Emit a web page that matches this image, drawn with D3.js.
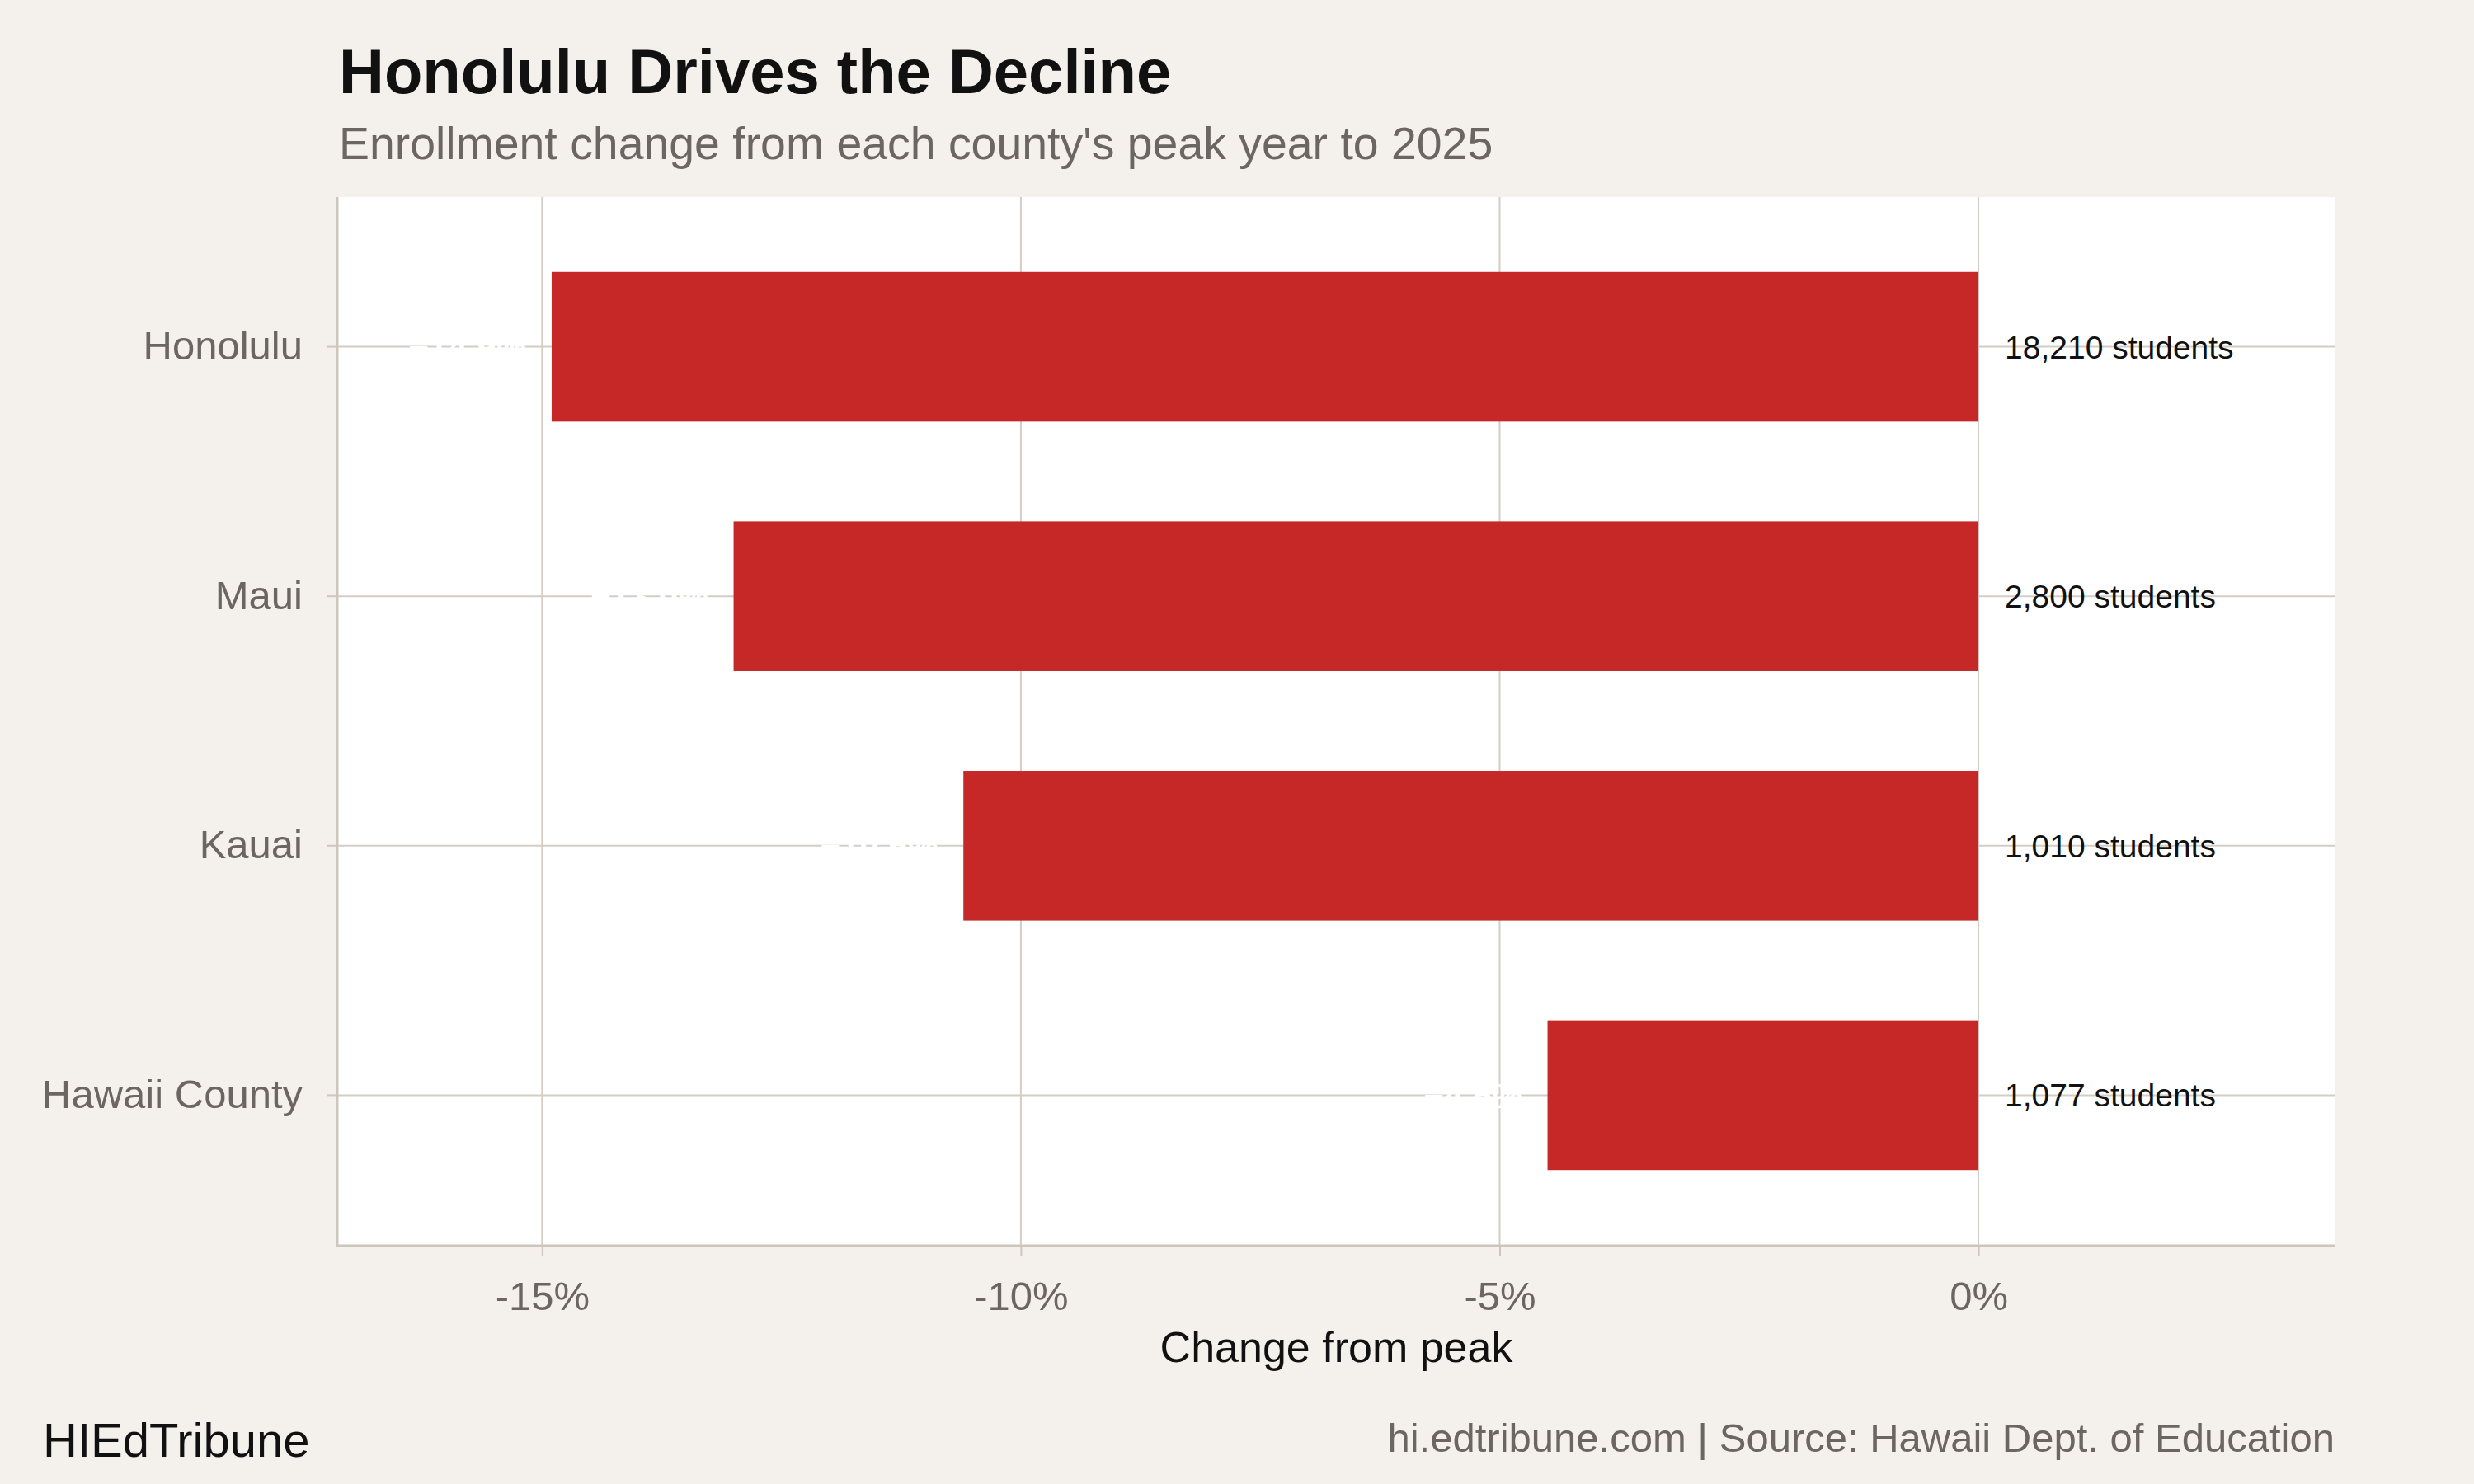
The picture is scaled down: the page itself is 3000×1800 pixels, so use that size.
<!DOCTYPE html>
<html>
<head>
<meta charset="utf-8">
<script src="https://cdn.jsdelivr.net/npm/d3@7"></script>
<style>
  html, body { margin: 0; padding: 0; background: #f4f1ec; }
  svg { display: block; }
  text { font-family: "Liberation Sans", Arial, Helvetica, sans-serif; }
</style>
</head>
<body>
<script>
// ---- data ----
const counties = ["Honolulu", "Maui", "Kauai", "Hawaii County"];
const pctChange = [-14.9, -13.0, -10.6, -4.5];
const studentsLost = [18210, 2800, 1010, 1077];
const xTicks = [-15, -10, -5, 0];
const xTickLabels = ["-15%", "-10%", "-5%", "0%"];

const titleText = "Honolulu Drives the Decline";
const subtitleText = "Enrollment change from each county's peak year to 2025";
const xAxisTitle = "Change from peak";
const brandText = "HIEdTribune";
const sourceText = "hi.edtribune.com | Source: Hawaii Dept. of Education";

// ---- layout ----
const W = 3000, H = 1800;
const panel = { left: 410, right: 2831, top: 239, bottom: 1510 };
const colors = {
  bg: "#f4f1ec", panel: "#ffffff", grid: "#d3cdc5", axis: "#cdc6bc",
  bar: "#c62828", grey: "#6b6661", dark: "#111111"
};

const rows = counties.map((c, i) => ({ county: c, pct: pctChange[i], students: studentsLost[i] }));

const svg = d3.select("body").append("svg").attr("width", W).attr("height", H);
svg.append("rect").attr("width", W).attr("height", H).attr("fill", colors.bg);

const x = d3.scaleLinear().domain([-17.13, 3.72]).range([panel.left, panel.right]);
const y = d3.scaleBand().domain(counties).range([panel.top, panel.bottom])
  .paddingInner(0.4).paddingOuter(0.3);

// panel background
svg.append("rect")
  .attr("x", panel.left).attr("y", panel.top)
  .attr("width", panel.right - panel.left).attr("height", panel.bottom - panel.top)
  .attr("fill", colors.panel);

// grid lines
svg.append("g").selectAll("line").data(xTicks).join("line")
  .attr("x1", d => x(d)).attr("x2", d => x(d))
  .attr("y1", panel.top).attr("y2", panel.bottom)
  .attr("stroke", colors.grid).attr("stroke-width", 2);
svg.append("g").selectAll("line").data(counties).join("line")
  .attr("x1", panel.left).attr("x2", panel.right)
  .attr("y1", d => y(d) + y.bandwidth() / 2).attr("y2", d => y(d) + y.bandwidth() / 2)
  .attr("stroke", colors.grid).attr("stroke-width", 2);

// bars
svg.append("g").selectAll("rect").data(rows).join("rect")
  .attr("x", d => x(Math.min(0, d.pct)))
  .attr("width", d => Math.abs(x(d.pct) - x(0)))
  .attr("y", d => y(d.county))
  .attr("height", y.bandwidth())
  .attr("fill", colors.bar);

// white percent labels (left of bars)
svg.append("g").selectAll("text").data(rows).join("text")
  .attr("x", d => x(d.pct) - 30)
  .attr("y", d => y(d.county) + y.bandwidth() / 2)
  .attr("dy", "0.36em")
  .attr("text-anchor", "end")
  .attr("font-size", 42).attr("font-weight", "bold")
  .attr("fill", "#ffffff")
  .text(d => d3.format(".1f")(d.pct) + "%");

// student labels
const fmt = d3.format(",");
svg.append("g").selectAll("text").data(rows).join("text")
  .attr("x", x(0) + 32)
  .attr("y", d => y(d.county) + y.bandwidth() / 2)
  .attr("dy", "0.36em")
  .attr("font-size", 39)
  .attr("fill", colors.dark)
  .text(d => fmt(d.students) + " students");

// x axis
const xAxis = d3.axisBottom(x).tickValues(xTicks)
  .tickFormat((d, i) => xTickLabels[i]).tickSize(14).tickPadding(30);
const gx = svg.append("g").attr("transform", `translate(0,${panel.bottom})`).call(xAxis);
gx.select(".domain").remove();
gx.selectAll(".tick line").attr("stroke", colors.axis).attr("stroke-width", 2);
gx.selectAll(".tick text").attr("font-size", 49).attr("fill", colors.grey)
  .attr("font-family", "Liberation Sans, Arial, sans-serif");

// y axis
const yAxis = d3.axisLeft(y).tickSize(14).tickPadding(29);
const gy = svg.append("g").attr("transform", `translate(${panel.left},0)`).call(yAxis);
gy.select(".domain").remove();
gy.selectAll(".tick line").attr("stroke", colors.axis).attr("stroke-width", 2);
gy.selectAll(".tick text").attr("font-size", 49).attr("fill", colors.grey)
  .attr("font-family", "Liberation Sans, Arial, sans-serif");

// axis lines
svg.append("line").attr("x1", panel.left).attr("x2", panel.right)
  .attr("y1", panel.bottom + 1).attr("y2", panel.bottom + 1)
  .attr("stroke", colors.axis).attr("stroke-width", 3);
svg.append("line").attr("x1", panel.left - 1).attr("x2", panel.left - 1)
  .attr("y1", panel.top).attr("y2", panel.bottom + 2.5)
  .attr("stroke", colors.axis).attr("stroke-width", 3);

// axis title
svg.append("text").attr("x", (panel.left + panel.right) / 2).attr("y", 1652)
  .attr("text-anchor", "middle").attr("font-size", 52).attr("fill", colors.dark)
  .text(xAxisTitle);

// title + subtitle
svg.append("text").attr("x", 411).attr("y", 113)
  .attr("font-size", 76).attr("font-weight", "bold").attr("fill", colors.dark)
  .text(titleText);
svg.append("text").attr("x", 411).attr("y", 193)
  .attr("font-size", 55.4).attr("fill", colors.grey)
  .text(subtitleText);

// footer
svg.append("text").attr("x", 52).attr("y", 1767)
  .attr("font-size", 58).attr("fill", colors.dark).text(brandText);
svg.append("text").attr("x", panel.right).attr("y", 1761)
  .attr("text-anchor", "end").attr("font-size", 49).attr("fill", colors.grey).text(sourceText);
</script>
</body>
</html>
